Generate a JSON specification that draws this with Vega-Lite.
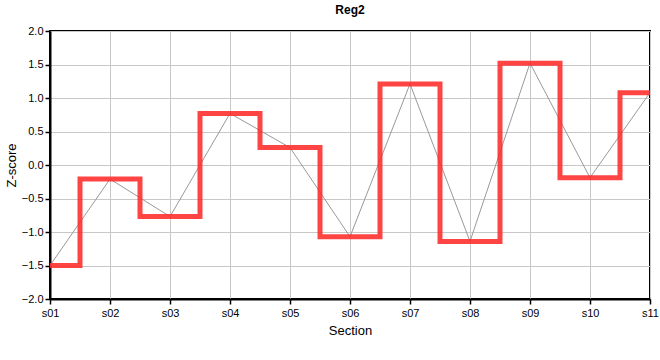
{
  "$schema": "https://vega.github.io/schema/vega-lite/v6.json",
  "width": 600,
  "height": 268,
  "autosize": {"type": "none"},
  "padding": {"left": 50, "top": 31, "right": 10, "bottom": 61},
  "background": "white",
  "title": {"text": "Reg2", "fontSize": 12, "fontWeight": "bold", "font": "Liberation Sans", "color": "#000000", "offset": 8},
  "data": {"values": [
    {"section": "s01", "z": -1.5},
    {"section": "s02", "z": -0.21},
    {"section": "s03", "z": -0.77},
    {"section": "s04", "z": 0.77},
    {"section": "s05", "z": 0.26},
    {"section": "s06", "z": -1.07},
    {"section": "s07", "z": 1.21},
    {"section": "s08", "z": -1.14},
    {"section": "s09", "z": 1.52},
    {"section": "s10", "z": -0.19},
    {"section": "s11", "z": 1.08}
  ]},
  "config": {
    "view": {"stroke": "#000000", "strokeWidth": 2},
    "axis": {
      "labelFont": "Liberation Sans", "labelFontSize": 11, "labelColor": "#000000",
      "titleFont": "Liberation Sans", "titleFontSize": 13, "titleFontWeight": "normal", "titleColor": "#000000",
      "domainColor": "#000000", "domainWidth": 2, "tickColor": "#000000", "tickSize": 5, "tickWidth": 1.5,
      "gridColor": "#c8c8c8", "gridWidth": 1
    }
  },
  "encoding": {
    "x": {"field": "section", "type": "ordinal", "scale": {"type": "point", "padding": 0},
      "axis": {"title": "Section", "labelAngle": 0, "grid": true, "labelPadding": 3, "titlePadding": 6}},
    "y": {"field": "z", "type": "quantitative", "scale": {"domain": [-2, 2]},
      "axis": {"title": "Z-score", "values": [-2, -1.5, -1, -0.5, 0, 0.5, 1, 1.5, 2], "format": ".1f", "labelPadding": 2, "titlePadding": 3}}
  },
  "layer": [
    {"mark": {"type": "line", "color": "#999999", "strokeWidth": 1}},
    {"mark": {"type": "line", "interpolate": "step", "color": "#ff2a2a", "opacity": 0.88, "strokeWidth": 5, "strokeJoin": "miter"}}
  ]
}
